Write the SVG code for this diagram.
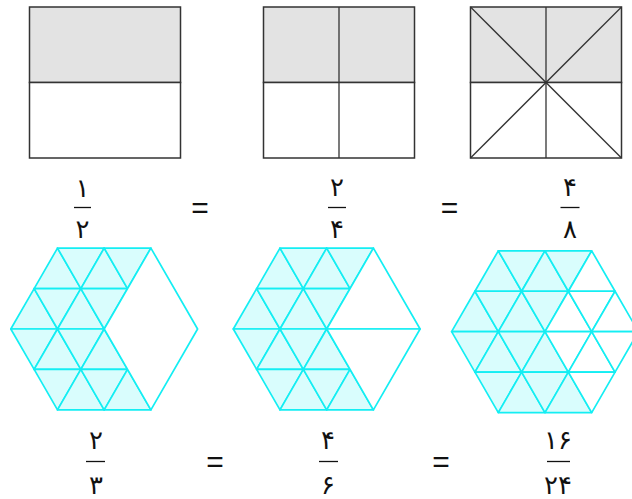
<svg xmlns="http://www.w3.org/2000/svg" xmlns:xlink="http://www.w3.org/1999/xlink" width="632" height="499" viewBox="0 0 632 499">
<style>
.sq{fill:#ffffff;stroke:#333333;stroke-width:1.5}
.sh{fill:#e3e3e3;stroke:#333333;stroke-width:1.5}
.ln{stroke:#333333;stroke-width:1.3;fill:none}
.s{fill:#d9fdfd;stroke:#14eef3;stroke-width:1.7;stroke-linejoin:round}
.u{fill:#ffffff;stroke:#14eef3;stroke-width:1.7;stroke-linejoin:round}
.d{font-family:"DejaVu Sans",sans-serif;font-size:26px;fill:#111111;text-anchor:middle}
.eq{font-family:"Liberation Sans",sans-serif;font-size:30px;fill:#111111;text-anchor:middle}
.bar{stroke:#111111;stroke-width:1.3}
</style>
<defs>
<g id="shaded16">
<polygon class="s" points="-70.05,-40.45 -23.35,-40.45 -46.7,-80.9"/>
<polygon class="s" points="-46.7,-80.9 0,-80.9 -23.35,-40.45"/>
<polygon class="s" points="-23.35,-40.45 23.35,-40.45 0,-80.9"/>
<polygon class="s" points="0,-80.9 46.7,-80.9 23.35,-40.45"/>
<polygon class="s" points="-93.4,0 -46.7,0 -70.05,-40.45"/>
<polygon class="s" points="-70.05,-40.45 -23.35,-40.45 -46.7,0"/>
<polygon class="s" points="-46.7,0 0,0 -23.35,-40.45"/>
<polygon class="s" points="-23.35,-40.45 23.35,-40.45 0,0"/>
<polygon class="s" points="-93.4,0 -46.7,0 -70.05,40.45"/>
<polygon class="s" points="-70.05,40.45 -23.35,40.45 -46.7,0"/>
<polygon class="s" points="-46.7,0 0,0 -23.35,40.45"/>
<polygon class="s" points="-23.35,40.45 23.35,40.45 0,0"/>
<polygon class="s" points="-70.05,40.45 -23.35,40.45 -46.7,80.9"/>
<polygon class="s" points="-46.7,80.9 0,80.9 -23.35,40.45"/>
<polygon class="s" points="-23.35,40.45 23.35,40.45 0,80.9"/>
<polygon class="s" points="0,80.9 46.7,80.9 23.35,40.45"/>
</g>
</defs>

<g id="square-half">
<rect class="sh" x="29.5" y="7" width="151" height="75.5"/>
<rect class="sq" x="29.5" y="82.5" width="151" height="75.5"/>
</g>
<g id="square-quarters">
<rect class="sh" x="263.5" y="7" width="151" height="75.5"/>
<rect class="sq" x="263.5" y="82.5" width="151" height="75.5"/>
<line class="ln" x1="339" y1="7" x2="339" y2="158"/>
</g>
<g id="square-eighths">
<rect class="sh" x="470.5" y="7" width="151" height="75.5"/>
<rect class="sq" x="470.5" y="82.5" width="151" height="75.5"/>
<line class="ln" x1="546" y1="7" x2="546" y2="158"/>
<line class="ln" x1="470.5" y1="7" x2="621.5" y2="158"/>
<line class="ln" x1="621.5" y1="7" x2="470.5" y2="158"/>
</g>

<g id="fractions-top">
<text class="d" x="82.5" y="197">۱</text>
<line class="bar" x1="74" y1="207.5" x2="91" y2="207.5"/>
<text class="d" x="82.5" y="238">۲</text>
<text class="eq" x="200" y="218">=</text>
<text class="d" x="337" y="196">۲</text>
<line class="bar" x1="328" y1="207.5" x2="346" y2="207.5"/>
<text class="d" x="337" y="238">۴</text>
<text class="eq" x="449.5" y="218">=</text>
<text class="d" x="570" y="196">۴</text>
<line class="bar" x1="560.5" y1="207.5" x2="579.5" y2="207.5"/>
<text class="d" x="570" y="238">۸</text>
</g>

<g id="hexagon-thirds" transform="translate(104.2,329)">
<use xlink:href="#shaded16"/>
<polygon class="u" points="0,0 46.7,-80.9 93.4,0 46.7,80.9"/>
</g>
<g id="hexagon-sixths" transform="translate(326.7,329)">
<use xlink:href="#shaded16"/>
<polygon class="u" points="0,0 46.7,-80.9 93.4,0"/>
<polygon class="u" points="0,0 93.4,0 46.7,80.9"/>
</g>
<g id="hexagon-24ths" transform="translate(545,331.7)">
<use xlink:href="#shaded16"/>
<polygon class="u" points="23.35,-40.45 70.05,-40.45 46.7,-80.9"/>
<polygon class="u" points="0,0 46.7,0 23.35,-40.45"/>
<polygon class="u" points="23.35,-40.45 70.05,-40.45 46.7,0"/>
<polygon class="u" points="46.7,0 93.4,0 70.05,-40.45"/>
<polygon class="u" points="0,0 46.7,0 23.35,40.45"/>
<polygon class="u" points="23.35,40.45 70.05,40.45 46.7,0"/>
<polygon class="u" points="46.7,0 93.4,0 70.05,40.45"/>
<polygon class="u" points="23.35,40.45 70.05,40.45 46.7,80.9"/>
</g>

<g id="fractions-bottom">
<text class="d" x="96" y="449">۲</text>
<line class="bar" x1="86" y1="461.5" x2="105" y2="461.5"/>
<text class="d" x="96" y="494">۳</text>
<text class="eq" x="215" y="472">=</text>
<text class="d" x="328" y="449">۴</text>
<line class="bar" x1="319" y1="461.5" x2="338" y2="461.5"/>
<text class="d" x="328" y="494">۶</text>
<text class="eq" x="441" y="472">=</text>
<text class="d" x="558" y="449">۱۶</text>
<line class="bar" x1="547" y1="461.5" x2="570" y2="461.5"/>
<text class="d" x="558" y="494">۲۴</text>
</g>
</svg>
